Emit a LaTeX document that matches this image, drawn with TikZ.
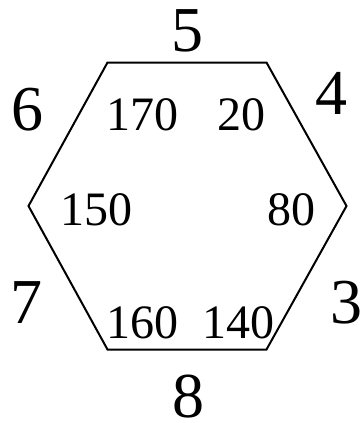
\documentclass[tikz,border=0pt]{standalone}
\usepackage{fontspec}
\setmainfont{Liberation Serif}
\begin{document}
\begin{tikzpicture}[x=1pt,y=-1pt,
  sidenum/.style={anchor=base,inner sep=0pt,text depth=0pt,font=\fontsize{64}{64}\selectfont},
  anglenum/.style={anchor=base,inner sep=0pt,text depth=0pt,font=\fontsize{48}{48}\selectfont},
]
  \useasboundingbox (0,0) rectangle (362,423);
  % hexagon corners
  \coordinate (tl) at (107.5,62.5);
  \coordinate (tr) at (266.5,62.5);
  \coordinate (r) at (346.5,206);
  \coordinate (br) at (266.5,349.5);
  \coordinate (bl) at (107.5,349.5);
  \coordinate (l) at (28.5,206);
  \draw[line width=2pt] (tl) -- (tr) -- (r) -- (br) -- (bl) -- (l) -- cycle;
  % side labels
  \node[sidenum] (s5) at (187,51.5) {5};
  \node[sidenum] (s4) at (331,114) {4};
  \node[sidenum] (s3) at (346,323.5) {3};
  \node[sidenum] (s8) at (188,417) {8};
  \node[sidenum] (s7) at (26.5,323.5) {7};
  \node[sidenum] (s6) at (27.5,130) {6};
  % angles
  \node[anglenum] (a170) at (142.5,130) {170};
  \node[anglenum] (a20) at (241.5,130) {20};
  \node[anglenum] (a80) at (291.5,225) {80};
  \node[anglenum] (a140) at (238.5,338) {140};
  \node[anglenum] (a160) at (142.5,338) {160};
  \node[anglenum] (a150) at (96,225) {150};
\end{tikzpicture}
\end{document}
